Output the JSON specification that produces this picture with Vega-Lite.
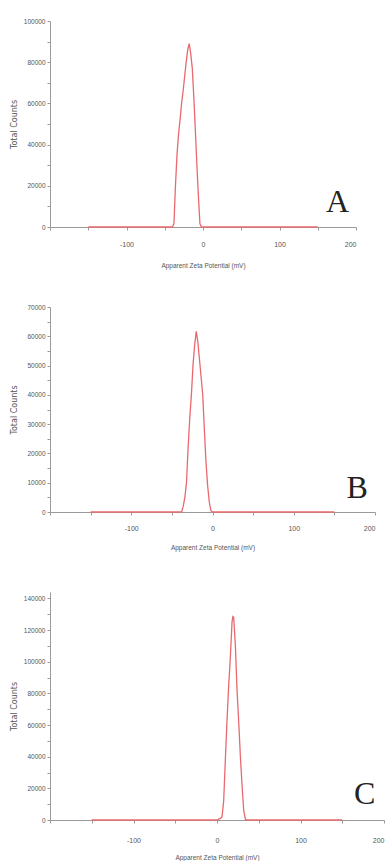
{
  "$schema": "https://vega.github.io/schema/vega-lite/v6.json",
  "background": "white",
  "padding": {"left": 10, "top": 18, "right": 0, "bottom": 0},
  "spacing": 80,
  "bounds": "flush",
  "config": {
    "view": {"stroke": null},
    "axis": {
      "grid": false,
      "tickCount": 100,
      "domainColor": "#9a9a9a",
      "tickColor": "#9a9a9a",
      "tickSize": 3,
      "labelFont": "Liberation Sans",
      "labelFontSize": 7,
      "labelColor": "#555555",
      "titleFont": "Liberation Sans",
      "titleFontSize": 6.5,
      "titleFontWeight": "normal",
      "titleColor": "#555555"
    },
    "axisY": {"labelFontSize": 6.5, "labelPadding": 2, "titleFont": "DejaVu Sans", "titleFontSize": 8, "titleX": -32}
  },
  "datasets": {
    "A": [
      {"zeta": -150, "counts": 0}, {"zeta": -100, "counts": 0}, {"zeta": -50, "counts": 0},
      {"zeta": -40, "counts": 0}, {"zeta": -38, "counts": 1500}, {"zeta": -36, "counts": 20000},
      {"zeta": -34, "counts": 35000}, {"zeta": -32, "counts": 45000}, {"zeta": -30, "counts": 52000},
      {"zeta": -28, "counts": 60000}, {"zeta": -26, "counts": 66000}, {"zeta": -24, "counts": 73000},
      {"zeta": -22, "counts": 80000}, {"zeta": -20, "counts": 86000}, {"zeta": -18, "counts": 89000},
      {"zeta": -16, "counts": 84000}, {"zeta": -14, "counts": 77000}, {"zeta": -12, "counts": 63000},
      {"zeta": -10, "counts": 47000}, {"zeta": -8, "counts": 30000}, {"zeta": -6, "counts": 15000},
      {"zeta": -4, "counts": 1500}, {"zeta": -2, "counts": 0}, {"zeta": 0, "counts": 0},
      {"zeta": 50, "counts": 0}, {"zeta": 100, "counts": 0}, {"zeta": 150, "counts": 0}
    ],
    "B": [
      {"zeta": -150, "counts": 0}, {"zeta": -100, "counts": 0}, {"zeta": -50, "counts": 0},
      {"zeta": -38, "counts": 0}, {"zeta": -36, "counts": 2000}, {"zeta": -34, "counts": 5000},
      {"zeta": -32, "counts": 10000}, {"zeta": -30, "counts": 22000}, {"zeta": -28, "counts": 32000},
      {"zeta": -26, "counts": 40000}, {"zeta": -24, "counts": 50000}, {"zeta": -22, "counts": 57000},
      {"zeta": -20, "counts": 61700}, {"zeta": -18, "counts": 58000}, {"zeta": -16, "counts": 52000},
      {"zeta": -14, "counts": 46000}, {"zeta": -12, "counts": 40000}, {"zeta": -10, "counts": 28000},
      {"zeta": -8, "counts": 17000}, {"zeta": -6, "counts": 9000}, {"zeta": -4, "counts": 3500},
      {"zeta": -2, "counts": 500}, {"zeta": 0, "counts": 0}, {"zeta": 50, "counts": 0},
      {"zeta": 100, "counts": 0}, {"zeta": 150, "counts": 0}
    ],
    "C": [
      {"zeta": -150, "counts": 0}, {"zeta": -100, "counts": 0}, {"zeta": -50, "counts": 0},
      {"zeta": 0, "counts": 0}, {"zeta": 4, "counts": 1000}, {"zeta": 6, "counts": 2000},
      {"zeta": 8, "counts": 12000}, {"zeta": 10, "counts": 38000}, {"zeta": 12, "counts": 63000},
      {"zeta": 14, "counts": 85000}, {"zeta": 16, "counts": 103000}, {"zeta": 18, "counts": 125000},
      {"zeta": 19, "counts": 128500}, {"zeta": 20, "counts": 128000}, {"zeta": 22, "counts": 110000},
      {"zeta": 24, "counts": 82000}, {"zeta": 26, "counts": 62000}, {"zeta": 28, "counts": 40000},
      {"zeta": 30, "counts": 22000}, {"zeta": 32, "counts": 6000}, {"zeta": 34, "counts": 500},
      {"zeta": 36, "counts": 0}, {"zeta": 50, "counts": 0}, {"zeta": 100, "counts": 0},
      {"zeta": 150, "counts": 0}
    ]
  },
  "vconcat": [
    {
      "width": 306,
      "height": 206,
      "layer": [
        {
          "data": {"name": "A"},
          "mark": {"type": "line", "color": "#e8696e", "strokeWidth": 1.3},
          "encoding": {
            "x": {"field": "zeta", "type": "quantitative", "scale": {"domain": [-200, 200], "nice": false},
              "axis": {"title": "Apparent Zeta Potential (mV)", "labelOverlap": false, "tickCount": 100, "values": [-200, -150, -100, -50, 0, 50, 100, 150, 200],
                "labelExpr": "datum.value % 100 === 0 && datum.value !== -200 ? '' + datum.value : ''", "labelPadding": 10.5, "titlePadding": 15}},
            "y": {"field": "counts", "type": "quantitative", "scale": {"domain": [0, 100000], "nice": false},
              "axis": {"title": "Total Counts", "labelOverlap": false, "tickCount": 100, "values": [0, 10000, 20000, 30000, 40000, 50000, 60000, 70000, 80000, 90000, 100000],
                "labelExpr": "datum.value % 20000 === 0 ? '' + datum.value : ''"}}
          }
        },
        {
          "data": {"values": [{"label": "A"}]},
          "mark": {"type": "text", "font": "Liberation Serif", "fontSize": 32, "color": "#222222", "align": "center", "baseline": "alphabetic"},
          "encoding": {"text": {"field": "label"}, "x": {"datum": 176}, "y": {"datum": 7300}}
        }
      ]
    },
    {
      "width": 325,
      "height": 205,
      "layer": [
        {
          "data": {"name": "B"},
          "mark": {"type": "line", "color": "#e8696e", "strokeWidth": 1.3},
          "encoding": {
            "x": {"field": "zeta", "type": "quantitative", "scale": {"domain": [-200, 200], "nice": false},
              "axis": {"title": "Apparent Zeta Potential (mV)", "labelOverlap": false, "tickCount": 100, "values": [-200, -150, -100, -50, 0, 50, 100, 150, 200],
                "labelExpr": "datum.value % 100 === 0 && datum.value !== -200 ? '' + datum.value : ''", "labelPadding": 9.5, "titlePadding": 13}},
            "y": {"field": "counts", "type": "quantitative", "scale": {"domain": [0, 70000], "nice": false},
              "axis": {"title": "Total Counts", "labelOverlap": false, "tickCount": 100, "values": [0, 5000, 10000, 15000, 20000, 25000, 30000, 35000, 40000, 45000, 50000, 55000, 60000, 65000, 70000],
                "labelExpr": "datum.value % 10000 === 0 ? '' + datum.value : ''"}}
          }
        },
        {
          "data": {"values": [{"label": "B"}]},
          "mark": {"type": "text", "font": "Liberation Serif", "fontSize": 32, "color": "#222222", "align": "center", "baseline": "alphabetic"},
          "encoding": {"text": {"field": "label"}, "x": {"datum": 178}, "y": {"datum": 4800}}
        }
      ]
    },
    {
      "width": 334,
      "height": 228,
      "layer": [
        {
          "data": {"name": "C"},
          "mark": {"type": "line", "color": "#e8696e", "strokeWidth": 1.3},
          "encoding": {
            "x": {"field": "zeta", "type": "quantitative", "scale": {"domain": [-200, 200], "nice": false},
              "axis": {"title": "Apparent Zeta Potential (mV)", "labelOverlap": false, "tickCount": 100, "values": [-200, -150, -100, -50, 0, 50, 100, 150, 200],
                "labelExpr": "datum.value % 100 === 0 && datum.value !== -200 ? '' + datum.value : ''", "labelPadding": 13, "titlePadding": 11.5}},
            "y": {"field": "counts", "type": "quantitative", "scale": {"domain": [0, 144000], "nice": false},
              "axis": {"title": "Total Counts", "labelOverlap": false, "tickCount": 100, "values": [0, 10000, 20000, 30000, 40000, 50000, 60000, 70000, 80000, 90000, 100000, 110000, 120000, 130000, 140000],
                "labelExpr": "datum.value % 20000 === 0 ? '' + datum.value : ''"}}
          }
        },
        {
          "data": {"values": [{"label": "C"}]},
          "mark": {"type": "text", "font": "Liberation Serif", "fontSize": 32, "color": "#222222", "align": "center", "baseline": "alphabetic"},
          "encoding": {"text": {"field": "label"}, "x": {"datum": 177}, "y": {"datum": 9900}}
        }
      ]
    }
  ]
}
